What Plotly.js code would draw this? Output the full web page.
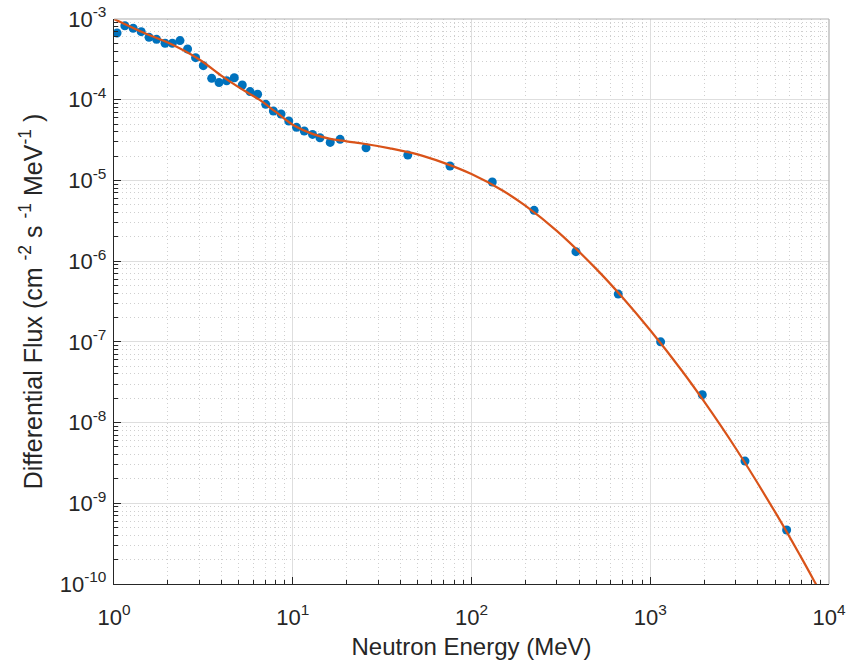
<!DOCTYPE html>
<html>
<head>
<meta charset="utf-8">
<script src="https://cdn.plot.ly/plotly-3.0.1.min.js"></script>
<style>html,body{margin:0;padding:0;background:#fff;}#chart{width:846px;height:663px;}</style>
</head>
<body>
<div id="chart"></div>
<script>
// Measured data points (Neutron energy in MeV, differential flux)
const measEnergy = [1.04, 1.15, 1.28, 1.42, 1.57, 1.73, 1.93, 2.12, 2.34, 2.58, 2.86, 3.16, 3.52, 3.87, 4.27, 4.71, 5.22, 5.77, 6.36, 7.06, 7.79, 8.6, 9.5, 10.5, 11.6, 12.9, 14.2, 16.2, 18.4, 25.7, 44, 75.8, 130.7, 224, 384, 662, 1143, 1955, 3388, 5794];
const measFlux = [6.7e-4, 8.26e-4, 7.67e-4, 6.97e-4, 5.93e-4, 5.6e-4, 5.0e-4, 5.0e-4, 5.4e-4, 4.25e-4, 3.32e-4, 2.64e-4, 1.84e-4, 1.63e-4, 1.72e-4, 1.87e-4, 1.52e-4, 1.26e-4, 1.17e-4, 8.77e-5, 7.25e-5, 6.65e-5, 5.45e-5, 4.55e-5, 4.1e-5, 3.72e-5, 3.38e-5, 2.96e-5, 3.23e-5, 2.54e-5, 2.06e-5, 1.51e-5, 9.55e-6, 4.26e-6, 1.31e-6, 3.91e-7, 1.0e-7, 2.21e-8, 3.33e-9, 4.66e-10];

// Fitted curve
const fitEnergy = [1, 1.5, 2, 3, 4, 5, 6.5, 8, 10, 13, 16, 20, 25, 35, 50, 70, 100, 150, 200, 300, 500, 700, 1000, 1500, 2000, 3000, 5000, 7000, 8400, 9000];
const fitFlux = [1.0e-3, 6.6e-4, 5.1e-4, 3.15e-4, 1.97e-4, 1.42e-4, 1.0e-4, 7.1e-5, 4.9e-5, 3.75e-5, 3.3e-5, 3.05e-5, 2.85e-5, 2.5e-5, 2.1e-5, 1.65e-5, 1.2e-5, 7.45e-6, 4.86e-6, 2.37e-6, 7.96e-7, 3.54e-7, 1.39e-7, 4.42e-8, 1.83e-8, 4.84e-9, 7.76e-10, 2.12e-10, 1.02e-10, 7.7e-11];

// Tick labels
const xTickVals = [1, 10, 100, 1000, 10000];
const xTickText = ['10<sup>0</sup>', '10<sup>1</sup>', '10<sup>2</sup>', '10<sup>3</sup>', '10<sup>4</sup>'];
const yTickVals = [1e-10, 1e-9, 1e-8, 1e-7, 1e-6, 1e-5, 1e-4, 1e-3];
const yTickText = ['10<sup>-10</sup>', '10<sup>-9</sup>', '10<sup>-8</sup>', '10<sup>-7</sup>', '10<sup>-6</sup>', '10<sup>-5</sup>', '10<sup>-4</sup>', '10<sup>-3</sup>'];

const axisColor = '#262626';
const fontFam = 'Liberation Sans, Arial, Helvetica, sans-serif';

const traces = [
  {
    x: measEnergy, y: measFlux, type: 'scatter', mode: 'markers',
    marker: {color: '#0072BD', size: 9},
    hoverinfo: 'x+y', showlegend: false
  },
  {
    x: fitEnergy, y: fitFlux, type: 'scatter', mode: 'lines',
    line: {color: '#D95319', width: 2.2, shape: 'spline', smoothing: 1.0},
    showlegend: false
  }
];

const commonAxis = {
  type: 'log',
  showline: true, linecolor: axisColor, linewidth: 1.2,
  ticks: 'inside', ticklen: 7, tickcolor: axisColor, tickwidth: 1,
  showgrid: true, gridcolor: '#dedede', gridwidth: 1,
  zeroline: false,
  tickfont: {family: fontFam, size: 22, color: axisColor},
  minor: {ticks: 'inside', ticklen: 4, tickcolor: axisColor, showgrid: true, gridcolor: '#cfcfcf', griddash: '1px,3px', gridwidth: 1, dtick: 'D1'}
};

const layout = {
  width: 846, height: 663,
  margin: {l: 114, r: 17, t: 19, b: 79},
  paper_bgcolor: '#fff', plot_bgcolor: '#fff',
  font: {family: fontFam, color: axisColor},
  xaxis: Object.assign({}, commonAxis, {
    range: [0, 4],
    tickmode: 'array', tickvals: xTickVals, ticktext: xTickText,
    ticklabelstandoff: 13,
    title: {text: 'Neutron Energy (MeV)', font: {family: fontFam, size: 24, color: axisColor}, standoff: 9}
  }),
  yaxis: Object.assign({}, commonAxis, {
    range: [-10, -3],
    tickmode: 'array', tickvals: yTickVals, ticktext: yTickText,
    ticklabelstandoff: 2,
    title: {text: 'Differential Flux (cm&nbsp;<sup>-2</sup>&nbsp;s&nbsp;<sup>-1</sup>&nbsp;MeV<sup>-1</sup>&nbsp;)', font: {family: fontFam, size: 25, color: axisColor}, standoff: 10}
  }),
  shapes: [
    {type: 'line', xref: 'x domain', yref: 'y domain', x0: 0, x1: 1, y0: 1, y1: 1, line: {color: '#b0b0b0', width: 1.2}},
    {type: 'line', xref: 'x domain', yref: 'y domain', x0: 1, x1: 1, y0: 0, y1: 1, line: {color: '#b0b0b0', width: 1.2}}
  ]
};

Plotly.newPlot('chart', traces, layout, {displayModeBar: false, staticPlot: true});
</script>
</body>
</html>
